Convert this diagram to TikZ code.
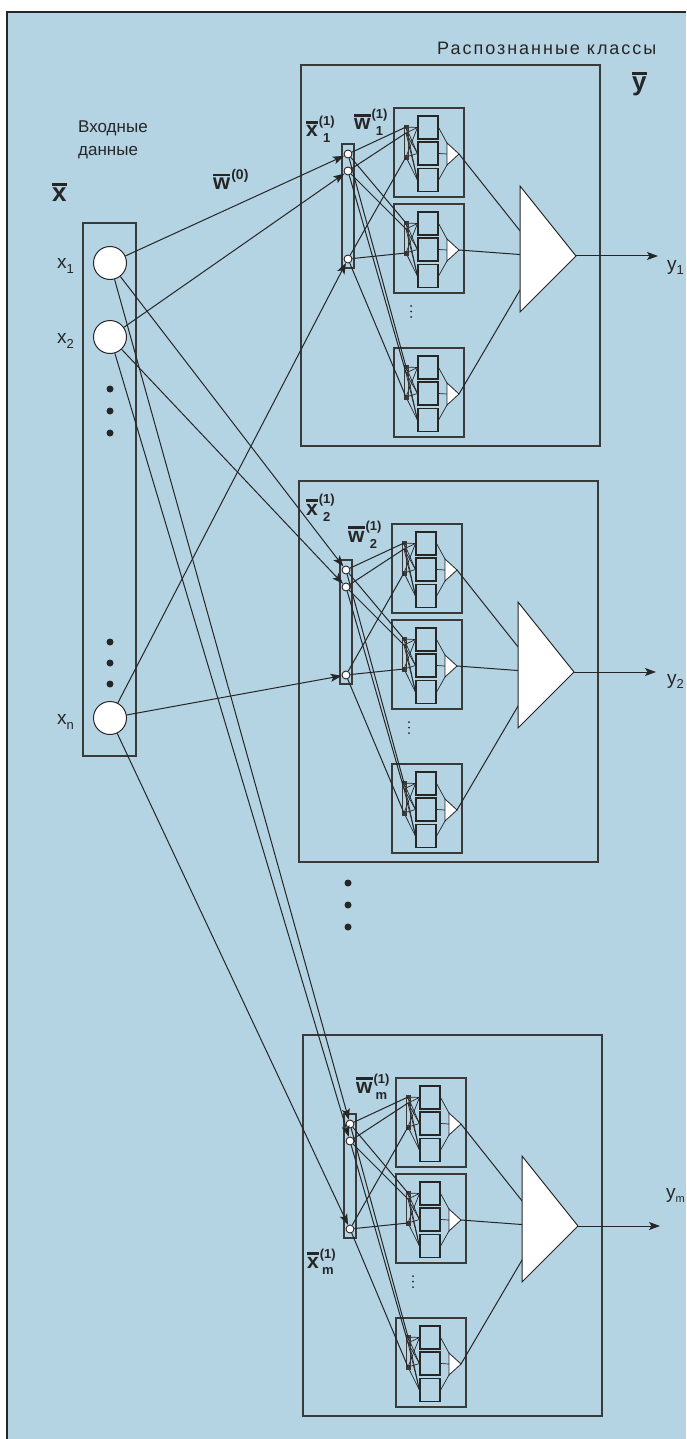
\documentclass[tikz,border=0pt]{standalone}
\usepackage{fontspec}
\setmainfont{Liberation Sans}
\usetikzlibrary{arrows.meta}
\definecolor{bg}{HTML}{B4D3E3}
\definecolor{ln}{HTML}{262626}
\definecolor{bx}{HTML}{3A3A3A}
\tikzset{
 classbox/.style={draw=bx, line width=1.5pt, rectangle, inner sep=0, minimum width=299, minimum height=381},
 subbox/.style={draw=bx, line width=1.4pt, rectangle, inner sep=0, minimum width=70, minimum height=89},
 cell/.style={draw=ln, line width=1.1pt, inner sep=0, minimum width=20, minimum height=23},
 barbox/.style={draw=bx, line width=0.8pt, inner sep=0, minimum width=4, minimum height=34},
 conn/.style={draw=ln, line width=1pt},
 fine/.style={draw=ln, line width=0.7pt},
 arr/.style={conn, -{Stealth[length=11pt,width=8pt,inset=2.5pt]}},
 incirc/.style={circle, draw=ln, fill=white, line width=1pt, minimum size=33, inner sep=0},
 smallcirc/.style={circle, draw=ln, fill=white, line width=0.9pt, minimum size=8, inner sep=0},
 vecbox/.style={draw=bx, line width=1.2pt, inner sep=0, minimum width=12, minimum height=124},
 inbox/.style={draw=bx, line width=1.3pt, inner sep=0, minimum width=53, minimum height=533},
 bigdot/.style={circle, fill=ln, inner sep=0, minimum size=7},
 tri/.style={draw=ln, fill=white, line width=1pt},
 lbl/.style={inner sep=0, anchor=base west, text=ln},
}
\newcommand\ovl[1]{\vbox{\hrule height 2.4pt\kern 2.4pt\hbox{#1}}}
\newcommand\vlab[3]{{\fontsize{21}{21}\selectfont\bfseries\ovl{#1}}\kern1pt\raisebox{-6pt}{\fontsize{13}{13}\selectfont\bfseries\shortstack{(#2)\\[3pt]#3}}}
\newcommand\subnet[3]{%
 \begin{scope}[shift={(#2,#3)}]
 \node[subbox] (#1) at (35,44.5) {};
 \node[cell] (#1-c1) at (34,19.5) {};
 \node[cell] (#1-c2) at (34,45.5) {};
 \node[cell] (#1-c3) at (34,72) {};
 \coordinate (#1-p1) at (12,19);
 \coordinate (#1-p2) at (12,25);
 \coordinate (#1-p3) at (12,49);
 \foreach \p in {p1,p2,p3}{\foreach \c in {c1,c2,c3}{\draw[fine] (#1-\p) -- (#1-\c.west);}}
 \node[barbox] (#1-bar) at (12,34) {};
 \fill[bx] (10,17) rectangle (14,21);
 \fill[bx] (10,47) rectangle (14,51);
 \draw[fine] (#1-c1.east) -- (53,35);
 \draw[fine] (#1-c2.east) -- (53,46);
 \draw[fine] (#1-c3.east) -- (53,57);
 \draw[tri, line width=0.8pt] (53,35) -- (65,46) coordinate (#1-o) -- (53,57) -- cycle;
 \end{scope}}
\newcommand\classblock[3]{%
 \begin{scope}[shift={(#2,#3)}]
 \node[classbox] (#1) at (450.5,255.5) {};
 \node[vecbox] (#1-v) at (348,206) {};
 \node[smallcirc] (#1-a) at (348,154) {};
 \node[smallcirc] (#1-b) at (348,171) {};
 \node[smallcirc] (#1-n) at (348,259) {};
 \subnet{#1-A}{394}{108}
 \subnet{#1-B}{394}{204}
 \subnet{#1-C}{394}{348}
 \foreach \s in {A,B,C}{%
   \draw[conn] (#1-a) -- (#1-\s-p1);
   \draw[conn] (#1-b) -- (#1-\s-p2);
   \draw[conn] (#1-n) -- (#1-\s-p3);
 }
 \fill[ln] (411,306) circle (1);
 \fill[ln] (411,311.5) circle (1);
 \fill[ln] (411,317) circle (1);
 \coordinate (#1-m) at (540,256);
 \foreach \s in {A,B,C}{\draw[conn] (#1-\s-o) -- (#1-m);}
 \draw[tri] (520,186) -- (576,256) coordinate (#1-o) -- (520,312) -- cycle;
 \coordinate (#1-y) at (658,256);
 \draw[arr] (#1-o) -- (#1-y);
 \end{scope}}
\begin{document}
\begin{tikzpicture}[x=1pt,y=-1pt]
\useasboundingbox (0,0) rectangle (686,1439);
\fill[white] (0,0) rectangle (686,1439);
\fill[bg] (7,12) rectangle (686,1439);
\draw[ln, line width=2pt] (7,1439) -- (7,12) -- (686,12);

% title texts
\node[lbl] (title) at (437,55) {\fontsize{18}{18}\selectfont\addfontfeature{LetterSpace=11}Распознанные классы};
\node[lbl] (ybar) at (632,91) {\fontsize{26}{26}\selectfont\bfseries\ovl{y}};
\node[lbl, align=left, anchor=north west, font=\fontsize{17}{23}\selectfont] (indata) at (78,121) {Входные\\данные};
\node[lbl] (xbar) at (52,202) {\fontsize{26}{26}\selectfont\bfseries\ovl{x}};
\node[lbl] (w0) at (213,190) {{\fontsize{22}{22}\selectfont\bfseries\ovl{w}}\kern1pt\raisebox{10pt}{\fontsize{14}{14}\selectfont\bfseries(0)}};

% input vector
\node[inbox] (in) at (109.5,489.5) {};
\node[incirc] (in1) at (110,263) {};
\node[incirc] (in2) at (110,337) {};
\node[incirc] (inn) at (110,718) {};
\node[bigdot] (d1) at (110,389) {};
\node[bigdot] (d2) at (110,411) {};
\node[bigdot] (d3) at (110,433) {};
\node[bigdot] (d4) at (110,642) {};
\node[bigdot] (d5) at (110,663) {};
\node[bigdot] (d6) at (110,684) {};
\node[lbl] (lx1) at (57,269) {\fontsize{19}{19}\selectfont x\raisebox{-5pt}{\fontsize{13}{13}\selectfont 1}};
\node[lbl] (lx2) at (57,343) {\fontsize{19}{19}\selectfont x\raisebox{-5pt}{\fontsize{13}{13}\selectfont 2}};
\node[lbl] (lxn) at (57,724) {\fontsize{19}{19}\selectfont x\raisebox{-5pt}{\fontsize{13}{13}\selectfont n}};

% classes
\classblock{k1}{0}{0}
\classblock{k2}{-2}{416}
\classblock{km}{2}{970}

% class labels
\node[lbl] (lx11) at (306,137) {\vlab{x}{1}{1}};
\node[lbl] (lw11) at (354,130) {\vlab{w}{1}{1}};
\node[lbl] (lx12) at (306,515) {\vlab{x}{1}{2}};
\node[lbl] (lw12) at (348,542) {\vlab{w}{1}{2}};
\node[lbl] (lw1m) at (356,1093) {\vlab{w}{1}{m}};
\node[lbl] (lx1m) at (307,1268) {\vlab{x}{1}{m}};

\node[lbl] (y1) at (667,270) {\fontsize{19}{19}\selectfont y\raisebox{-4pt}{\fontsize{13}{13}\selectfont 1}};
\node[lbl] (y2) at (667,684) {\fontsize{19}{19}\selectfont y\raisebox{-4pt}{\fontsize{13}{13}\selectfont 2}};
\node[lbl] (ym) at (666,1198) {\fontsize{19}{19}\selectfont y\raisebox{-4pt}{\fontsize{11}{11}\selectfont m}};

% dots between classes
\node[bigdot] (e1) at (348,883) {};
\node[bigdot] (e2) at (348,905) {};
\node[bigdot] (e3) at (348,927) {};

% input connections
\draw[arr] (in1) -- (k1-a);
\draw[arr] (in1) -- (k2-a);
\draw[arr] (in1) -- (km-a);
\draw[arr] (in2) -- (k1-b);
\draw[arr] (in2) -- (k2-b);
\draw[arr] (in2) -- (km-b);
\draw[arr] (inn) -- (k1-n);
\draw[arr] (inn) -- (k2-n);
\draw[arr] (inn) -- (km-n);
\end{tikzpicture}
\end{document}
